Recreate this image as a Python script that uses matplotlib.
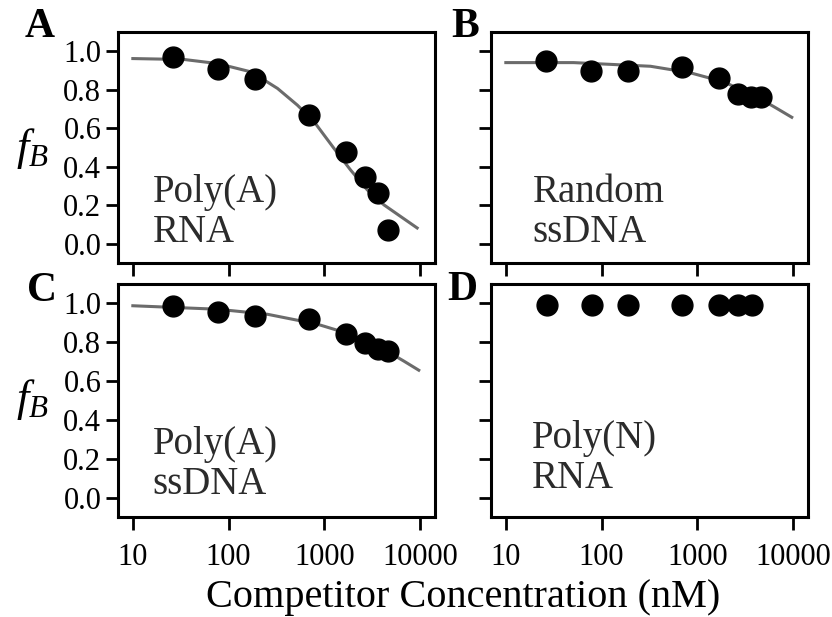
import matplotlib
matplotlib.use("Agg")
import matplotlib.pyplot as plt

plt.rcParams['font.family'] = ['Liberation Serif', 'DejaVu Serif']
plt.rcParams['mathtext.fontset'] = 'custom'
plt.rcParams['mathtext.rm'] = 'Liberation Serif'
plt.rcParams['mathtext.it'] = 'Liberation Serif:italic'

# ---- data ----
conc = [26, 78, 188, 690, 1680, 2650, 3650, 4650]
conc_d = [27, 80, 190, 694, 1700, 2680, 3700]

fb_a = [0.97, 0.91, 0.858, 0.668, 0.478, 0.346, 0.263, 0.073]
fb_b = [0.95, 0.90, 0.90, 0.918, 0.859, 0.777, 0.760, 0.763]
fb_c = [0.988, 0.957, 0.933, 0.922, 0.841, 0.798, 0.767, 0.755]
fb_d = [0.99, 0.99, 0.99, 0.99, 0.99, 0.99, 0.99]

fit_a_x = [10, 34.6, 76.8, 171, 236, 324, 523, 781, 1262, 1879, 2805, 4188, 6240, 9310]
fit_a_y = [0.962, 0.957, 0.936, 0.893, 0.85, 0.807, 0.720, 0.634, 0.495, 0.383, 0.280, 0.202, 0.142, 0.082]
fit_b_x = [10, 51, 324, 845, 1879, 4190, 6760, 9680]
fit_b_y = [0.941, 0.941, 0.922, 0.888, 0.841, 0.763, 0.703, 0.657]
fit_c_x = [10, 77, 255, 845, 1880, 4190, 6760, 9680]
fit_c_y = [0.988, 0.970, 0.944, 0.893, 0.841, 0.763, 0.703, 0.656]

panel_letters = ['A', 'B', 'C', 'D']
panel_texts = ['Poly(A)\nRNA', 'Random\nssDNA', 'Poly(A)\nssDNA', 'Poly(N)\nRNA']
xticks = [10, 100, 1000, 10000]
xtick_labels = ['10', '100', '1000', '10000']
yticks = [0.0, 0.2, 0.4, 0.6, 0.8, 1.0]
ytick_labels = ['0.0', '0.2', '0.4', '0.6', '0.8', '1.0']

W, H = 832, 617
fig = plt.figure(figsize=(W / 100, H / 100), dpi=100)

def px_axes(l, t, r, b):
    return fig.add_axes([l / W, 1 - b / H, (r - l) / W, (b - t) / H])

boxes = [(118, 32, 435, 263), (491, 32, 808, 263), (118, 284, 435, 517), (491, 284, 808, 517)]
axs = [px_axes(*b) for b in boxes]

series = [(conc, fb_a, fit_a_x, fit_a_y), (conc, fb_b, fit_b_x, fit_b_y),
          (conc, fb_c, fit_c_x, fit_c_y), (conc_d, fb_d, None, None)]
text_pos = [(0.11, 0.091), (0.132, 0.091), (0.11, 0.099), (0.129, 0.124)]

for i, ax in enumerate(axs):
    xs, ys, fx, fy = series[i]
    if fx is not None:
        ax.plot(fx, fy, color='#6b6b6b', lw=2.2, zorder=2)
    ax.plot(xs, ys, 'o', color='black', ms=15, mec='black', zorder=3)
    ax.set_xscale('log')
    ax.set_xlim(7.0, 14300)
    ax.set_ylim(-0.1, 1.1)
    ax.set_xticks(xticks)
    ax.minorticks_off()
    ax.set_yticks(yticks)
    for s in ax.spines.values():
        s.set_linewidth(2.2)
    ax.tick_params(direction='out', length=9, width=2.0, labelsize=22, pad=3)
    ax.tick_params(axis='x', pad=10)
    if i in (2, 3):
        ax.set_xticklabels(xtick_labels)
    else:
        ax.set_xticklabels([])
    if i in (0, 2):
        ax.set_yticklabels(ytick_labels)
    else:
        ax.set_yticklabels([])
    tx, ty = text_pos[i]
    ax.text(tx, ty, panel_texts[i], transform=ax.transAxes, ha='left', va='baseline',
            fontsize=28, color='#2b2b2b', linespacing=1.1)

# panel letters
letter_pos = [(25, 37), (451, 37), (27, 301), (447, 300)]
for (x, y), lab in zip(letter_pos, panel_letters):
    fig.text(x / W, 1 - y / H, lab, fontsize=30, fontweight='bold', ha='left', va='baseline')

# y labels
for yc in (148, 400):
    fig.text(32 / W, 1 - yc / H, r'$f_B$', fontsize=32, ha='center', va='center')

fig.text(463 / W, 1 - 607 / H, 'Competitor Concentration (nM)', fontsize=29,
         ha='center', va='baseline')

fig.savefig('out.png', dpi=100)
